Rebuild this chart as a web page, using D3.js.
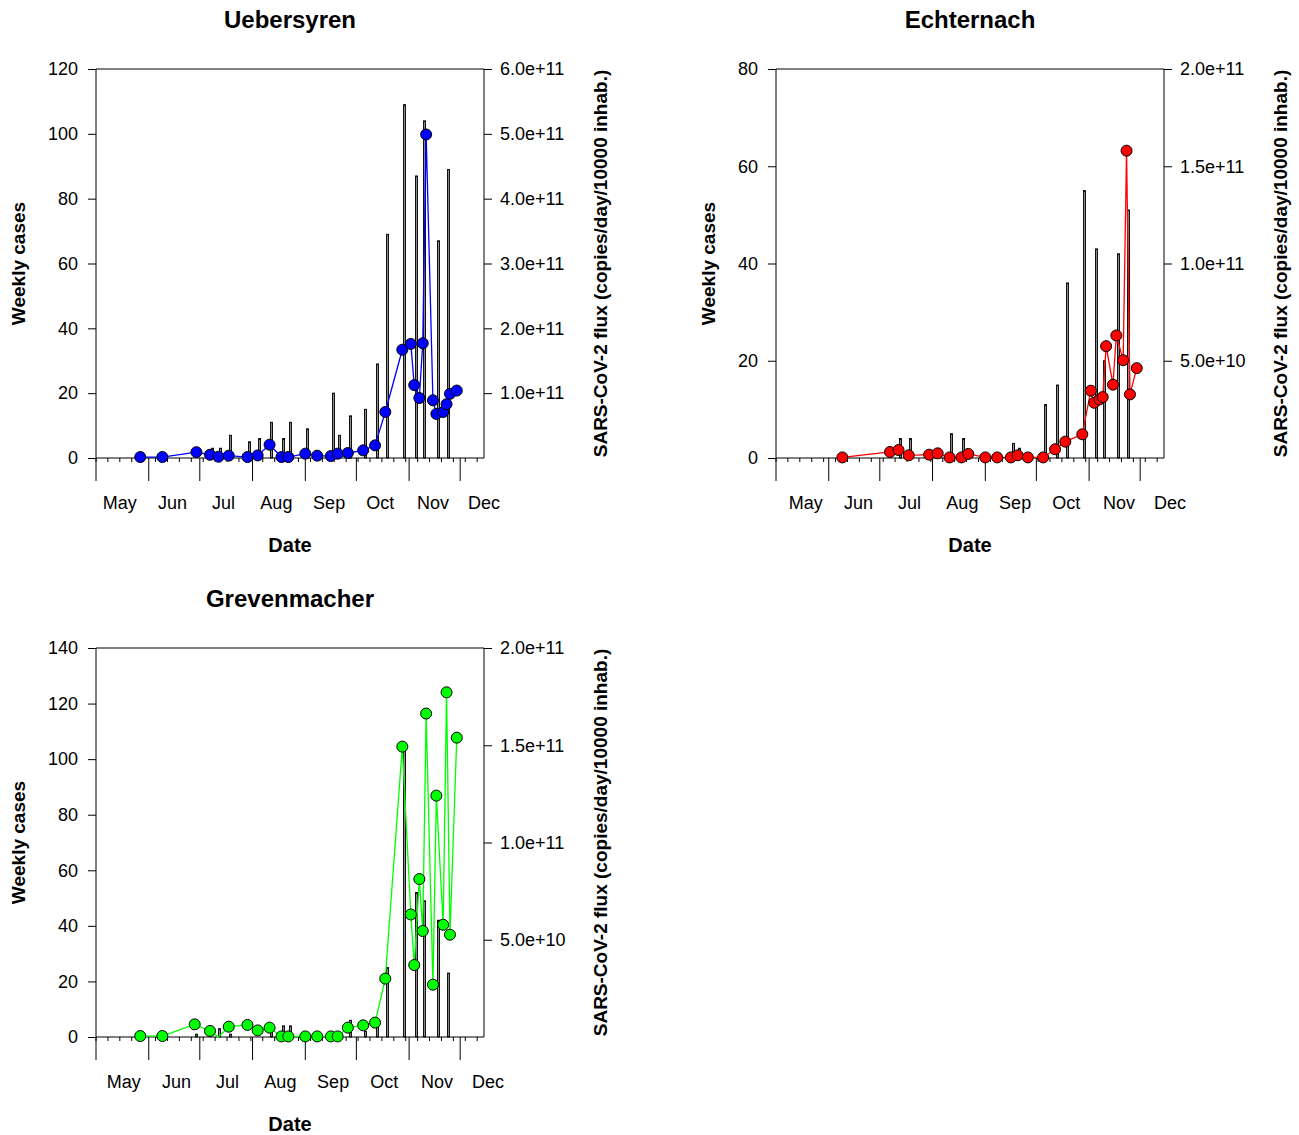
<!DOCTYPE html>
<html>
<head>
<meta charset="utf-8">
<script src="https://cdn.jsdelivr.net/npm/d3@7"></script>
<style>
  body { margin: 0; background: #fff; }
  svg { display: block; font-family: "Liberation Sans", Arial, sans-serif; }
  .tick text { font-size: 18px; fill: #000; }
  .tick line { stroke: #000; }
</style>
</head>
<body>
<div id="chart-area"></div>
<script>
// DATA (2020)
var months = ["May", "Jun", "Jul", "Aug", "Sep", "Oct", "Nov", "Dec"];

// Uebersyren
var uebCaseDates = ["07-08", "07-13", "07-19", "07-30", "08-05", "08-12", "08-19", "08-23", "09-02", "09-17",
    "09-21", "09-27", "10-06", "10-13", "10-19", "10-29", "11-05", "11-10", "11-18", "11-24"];
var uebCases = [3, 3, 7, 5, 6, 11, 6, 11, 9, 20, 7, 13, 15, 29, 69, 109, 87, 104, 67, 89];
var uebFluxDates = ["05-27", "06-09", "06-29", "07-07", "07-12", "07-18", "07-29", "08-04", "08-11", "08-18",
    "08-22", "09-01", "09-08", "09-16", "09-20", "09-26", "10-05", "10-12", "10-18", "10-28", "11-02",
    "11-04", "11-07", "11-09", "11-11", "11-15", "11-17", "11-21", "11-23", "11-25", "11-29"];
var uebFlux = [1.5e9, 1.5e9, 9e9, 5e9, 2e9, 3.6e9, 1.5e9, 4e9, 2.05e10, 1.5e9,
    1.5e9, 6.7e9, 3.6e9, 3e9, 6.7e9, 7.7e9, 1.18e10, 1.95e10, 7.1e10, 1.67e11, 1.76e11,
    1.125e11, 9.25e10, 1.77e11, 4.99e11, 8.9e10, 6.8e10, 7.1e10, 8.3e10, 9.9e10, 1.04e11];

// Echternach
var echCaseDates = ["07-13", "07-19", "08-12", "08-19", "09-17", "09-21", "10-06", "10-13", "10-19", "10-29",
    "11-05", "11-10", "11-18", "11-24"];
var echCases = [4, 4, 5, 4, 3, 2, 11, 15, 36, 55, 43, 20, 42, 51];
var echFluxDates = ["06-09", "07-07", "07-12", "07-18", "07-30", "08-04", "08-11", "08-18", "08-22", "09-01",
    "09-08", "09-16", "09-20", "09-26", "10-05", "10-12", "10-18", "10-28", "11-02", "11-04", "11-07",
    "11-09", "11-11", "11-15", "11-17", "11-21", "11-23", "11-25", "11-29"];
var echFlux = [3e8, 3.1e9, 4.1e9, 1.4e9, 1.7e9, 2.4e9, 3e8, 3e8, 2.1e9, 3e8,
    3e8, 3e8, 1.4e9, 3e8, 3e8, 4.5e9, 8.4e9, 1.22e10, 3.46e10, 2.84e10, 3.01e10,
    3.13e10, 5.75e10, 3.77e10, 6.3e10, 5.03e10, 1.58e11, 3.27e10, 4.62e10];

// Grevenmacher
var greCaseDates = ["06-29", "07-12", "07-19", "08-12", "08-19", "08-23", "09-27", "10-06", "10-13", "10-19",
    "10-29", "11-05", "11-10", "11-18", "11-24"];
var greCases = [1, 3, 1, 2, 4, 4, 6, 2, 5, 25, 104, 52, 49, 42, 23];
var greFluxDates = ["05-27", "06-09", "06-28", "07-07", "07-12", "07-18", "07-29", "08-04", "08-11", "08-18",
    "08-22", "09-01", "09-08", "09-16", "09-20", "09-26", "10-05", "10-12", "10-18", "10-28", "11-02",
    "11-04", "11-07", "11-09", "11-11", "11-15", "11-17", "11-21", "11-23", "11-25", "11-29"];
var greFlux = [5e8, 5e8, 6.5e9, 3.1e9, 0, 5.3e9, 6.2e9, 3.4e9, 4.8e9, 3e8,
    3e8, 3e8, 3e8, 3e8, 3e8, 4.8e9, 6e9, 7.4e9, 3.0e10, 1.493e11, 6.3e10,
    3.7e10, 8.12e10, 5.45e10, 1.663e11, 2.69e10, 1.241e11, 5.77e10, 1.772e11, 5.26e10, 1.539e11];

var parse = d3.timeParse("%Y-%m-%d");
function toDate(s) { return parse("2020-" + s); }

// CREATE SVG
var svg = d3.select("#chart-area")
    .append("svg")
    .attr("width", 1299)
    .attr("height", 1135);

var W = 388, H = 389;

function drawPanel(p) {
    var g = svg.append("g")
        .attr("transform", "translate(" + p.left + "," + p.top + ")");

    var x = d3.scaleTime()
        .domain([toDate("05-01"), toDate("12-15")])
        .range([0, W]);
    var y = d3.scaleLinear().domain([0, p.yMax]).range([H, 0]);
    var y2 = d3.scaleLinear().domain([0, p.rMax]).range([H, 0]);

    // frame
    g.append("line").attr("x1", 0).attr("x2", W).attr("y1", 0).attr("y2", 0).attr("stroke", "#000");
    g.append("line").attr("x1", W).attr("x2", W).attr("y1", 0).attr("y2", H).attr("stroke", "#000");
    g.append("line").attr("x1", 0).attr("x2", 0).attr("y1", 0).attr("y2", H + 23).attr("stroke", "#000");
    g.append("line").attr("x1", 0).attr("x2", W).attr("y1", H).attr("y2", H).attr("stroke", "#000");

    // left axis
    var leftAxis = g.append("g")
        .call(d3.axisLeft(y).tickValues(d3.range(0, p.yMax + 1, 20)).tickSize(8).tickPadding(10));
    leftAxis.select(".domain").remove();

    // right axis
    var rightAxis = g.append("g")
        .attr("transform", "translate(" + W + ",0)")
        .call(d3.axisRight(y2).tickValues(p.rTicks).tickSize(8).tickPadding(8).tickFormat(d3.format(".1e")));
    rightAxis.select(".domain").remove();

    // x axis: weekly minor ticks, month major ticks, month labels mid-month
    var minor = d3.range(0, 33).map(function (i) { return d3.timeDay.offset(toDate("05-01"), i * 7); })
        .filter(function (d) { return d <= toDate("12-15"); });
    g.append("g").selectAll("line").data(minor).enter().append("line")
        .attr("x1", function (d) { return x(d); })
        .attr("x2", function (d) { return x(d); })
        .attr("y1", H).attr("y2", H + 4)
        .attr("stroke", "#000");
    var monthStarts = d3.timeMonth.range(toDate("06-01"), toDate("12-02"));
    g.append("g").selectAll("line").data(monthStarts).enter().append("line")
        .attr("x1", function (d) { return x(d); })
        .attr("x2", function (d) { return x(d); })
        .attr("y1", H).attr("y2", H + 23)
        .attr("stroke", "#000");
    var labelDates = d3.timeMonth.range(toDate("05-01"), toDate("12-02"))
        .map(function (d) { return d3.timeDay.offset(d, 14); });
    g.append("g").selectAll("text").data(labelDates).enter().append("text")
        .attr("x", function (d) { return x(d) + p.labelShift; })
        .attr("y", H + 51)
        .attr("text-anchor", "middle")
        .attr("font-size", "18px")
        .text(function (d, i) { return months[i]; });

    // bars: weekly cases (left axis)
    var cases = p.caseDates.map(function (d, i) { return { date: toDate(d), v: p.cases[i] }; });
    g.append("g").selectAll("rect").data(cases).enter().append("rect")
        .attr("x", function (d) { return Math.round(x(d.date)) - 0.5; })
        .attr("width", 2)
        .attr("y", function (d) { return y(d.v); })
        .attr("height", function (d) { return H - y(d.v); })
        .attr("fill", "#8a8a8a")
        .attr("stroke", "#111")
        .attr("stroke-width", 1);

    // flux line + markers (right axis)
    var flux = p.fluxDates.map(function (d, i) { return { date: toDate(d), v: p.flux[i] }; });
    var line = d3.line()
        .x(function (d) { return x(d.date); })
        .y(function (d) { return y2(d.v); });
    g.append("path").datum(flux)
        .attr("d", line)
        .attr("fill", "none")
        .attr("stroke", p.color)
        .attr("stroke-width", 1.3);
    g.append("g").selectAll("circle").data(flux.filter(function (d) { return d.v > 0; })).enter().append("circle")
        .attr("cx", function (d) { return x(d.date); })
        .attr("cy", function (d) { return y2(d.v); })
        .attr("r", 5.5)
        .attr("fill", p.color)
        .attr("stroke", "#000")
        .attr("stroke-width", 1);

    // titles
    g.append("text")
        .attr("x", W / 2).attr("y", -41)
        .attr("text-anchor", "middle")
        .attr("font-size", "24px").attr("font-weight", "bold")
        .text(p.title);
    g.append("text")
        .attr("x", W / 2).attr("y", H + 94)
        .attr("text-anchor", "middle")
        .attr("font-size", "20px").attr("font-weight", "bold")
        .text("Date");
    g.append("text")
        .attr("transform", "translate(" + p.leftTitleX + "," + (H / 2) + ") rotate(-90)")
        .attr("text-anchor", "middle")
        .attr("font-size", "19px").attr("font-weight", "bold")
        .text("Weekly cases");
    g.append("text")
        .attr("transform", "translate(" + (W + 123) + "," + (H / 2) + ") rotate(-90)")
        .attr("text-anchor", "middle")
        .attr("font-size", "19px").attr("font-weight", "bold")
        .text("SARS-CoV-2 flux (copies/day/10000 inhab.)");
}

drawPanel({
    left: 96, top: 69, title: "Uebersyren", color: "#0000ff", labelShift: 0,
    yMax: 120, rMax: 6e11, rTicks: [1e11, 2e11, 3e11, 4e11, 5e11, 6e11], leftTitleX: -71,
    caseDates: uebCaseDates, cases: uebCases, fluxDates: uebFluxDates, flux: uebFlux
});
drawPanel({
    left: 776, top: 69, title: "Echternach", color: "#ff0000", labelShift: 6,
    yMax: 80, rMax: 2e11, rTicks: [5e10, 1e11, 1.5e11, 2e11], leftTitleX: -61,
    caseDates: echCaseDates, cases: echCases, fluxDates: echFluxDates, flux: echFlux
});
drawPanel({
    left: 96, top: 648, title: "Grevenmacher", color: "#00ff00", labelShift: 4,
    yMax: 140, rMax: 2e11, rTicks: [5e10, 1e11, 1.5e11, 2e11], leftTitleX: -71,
    caseDates: greCaseDates, cases: greCases, fluxDates: greFluxDates, flux: greFlux
});
</script>
</body>
</html>
